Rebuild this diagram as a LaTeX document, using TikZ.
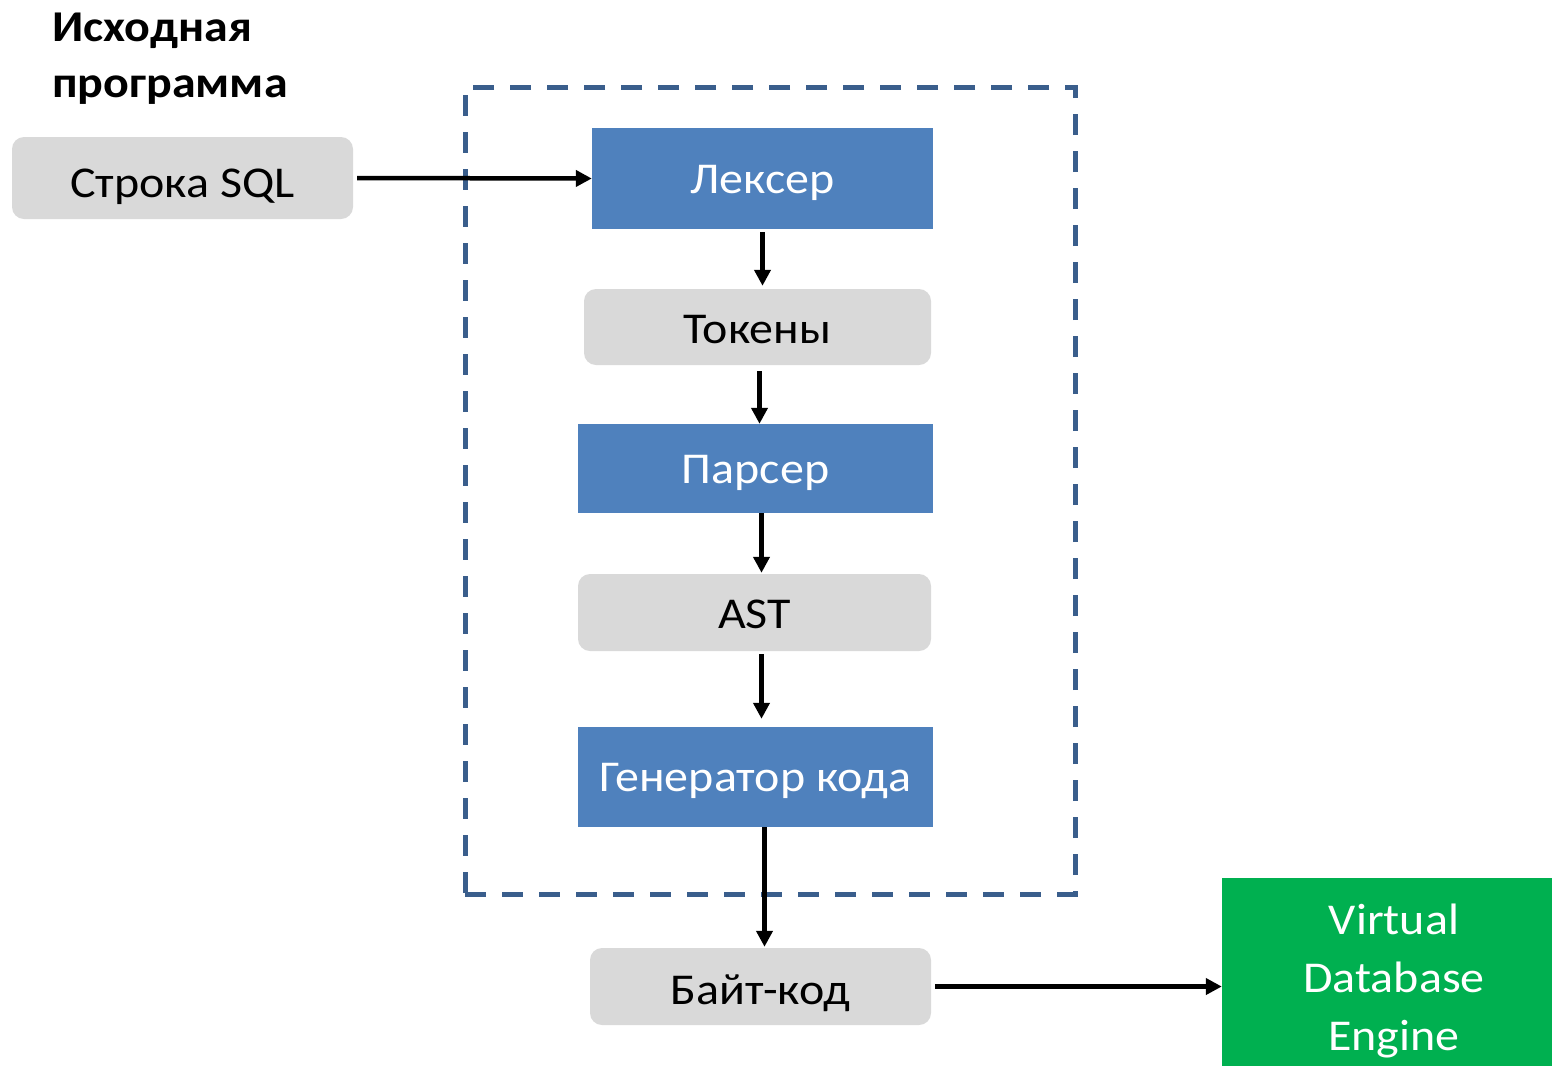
\documentclass[tikz,border=0pt]{standalone}
\usepackage{fontspec}
\setmainfont[FakeStretch=1.09]{Carlito}
\usetikzlibrary{arrows.meta}

\definecolor{stageblue}{RGB}{79,129,189}
\definecolor{datagray}{RGB}{217,217,217}
\definecolor{enginegreen}{RGB}{0,176,80}
\definecolor{frameblue}{RGB}{58,94,140}

\tikzset{
  boxtext/.style={font=\fontsize{44}{55}\selectfont, inner sep=0pt, text depth=0pt},
  databox/.style={boxtext, rectangle, rounded corners=12pt, fill=datagray,
    text=black, text height=32pt},
  stagebox/.style={boxtext, rectangle, fill=stageblue, text=white, text height=29pt},
  enginebox/.style={rectangle, fill=enginegreen, inner sep=0pt},
  enginetext/.style={text=white, align=center, inner sep=0pt,
    font=\fontsize{44}{58}\selectfont},
  framebox/.style={rectangle, draw=frameblue, line width=5pt,
    dash pattern=on 21pt off 16pt, inner sep=0pt},
  flow/.style={draw=black, line width=4.5pt,
    -{Triangle[length=16pt,width=16pt]}},
}

\begin{document}
\begin{tikzpicture}[x=1pt, y=-1pt]
  \useasboundingbox (0,0) rectangle (1552,1066);

  % heading
  \node[anchor=north west, align=left, inner sep=0pt,
        font=\bfseries\fontsize{44}{56}\selectfont] (title) at (52,13)
        {Исходная\\программа};

  % dashed frame round the compiler stages
  \node[framebox, minimum width=610, minimum height=807] (frame) at (770,490.5) {};

  \node[databox, minimum width=341, minimum height=82, text height=38pt] (sql) at (182.5,178) {Строка SQL};
  \node[stagebox, minimum width=341, minimum height=101] (lex) at (762.5,178.5) {Лексер};
  \node[databox, minimum width=347, minimum height=76] (tok) at (757.5,327) {Токены};
  \node[stagebox, minimum width=355, minimum height=89] (par) at (755.5,468.5) {Парсер};
  \node[databox, minimum width=353, minimum height=77] (ast) at (754.5,612.5) {AST};
  \node[stagebox, minimum width=355, minimum height=100] (gen) at (755.5,777) {Генератор кода};
  \node[databox, minimum width=341, minimum height=77, text height=35pt] (byte) at (760.5,986.5) {Байт-код};

  % target engine
  \node[enginebox, minimum width=330, minimum height=188] (vde) at (1387,972) {};
  \node[enginetext] (vdetext) at ([xshift=7pt, yshift=-8.5pt]vde.center)
        {Virtual\\Database\\Engine};

  % data flow
  \draw[flow, shorten <=4pt] (sql.east) -- (lex.west);
  \draw[flow, shorten <=3pt, shorten >=3pt] (lex.south) -- (lex.south |- tok.north);
  \draw[flow, shorten <=6pt] ([xshift=2pt]tok.south) -- ([xshift=2pt]tok.south |- par.north);
  \draw[flow, shorten >=1pt] ([xshift=6pt]par.south) -- ([xshift=6pt]par.south |- ast.north);
  \draw[flow, shorten <=3pt, shorten >=8pt] ([xshift=7pt]ast.south) -- ([xshift=7pt]ast.south |- gen.north);
  \draw[flow, shorten >=1pt] ([xshift=9pt]gen.south) -- ([xshift=9pt]gen.south |- byte.north);
  \draw[flow, shorten <=4pt] (byte.east) -- (byte.east -| vde.west);
\end{tikzpicture}
\end{document}
